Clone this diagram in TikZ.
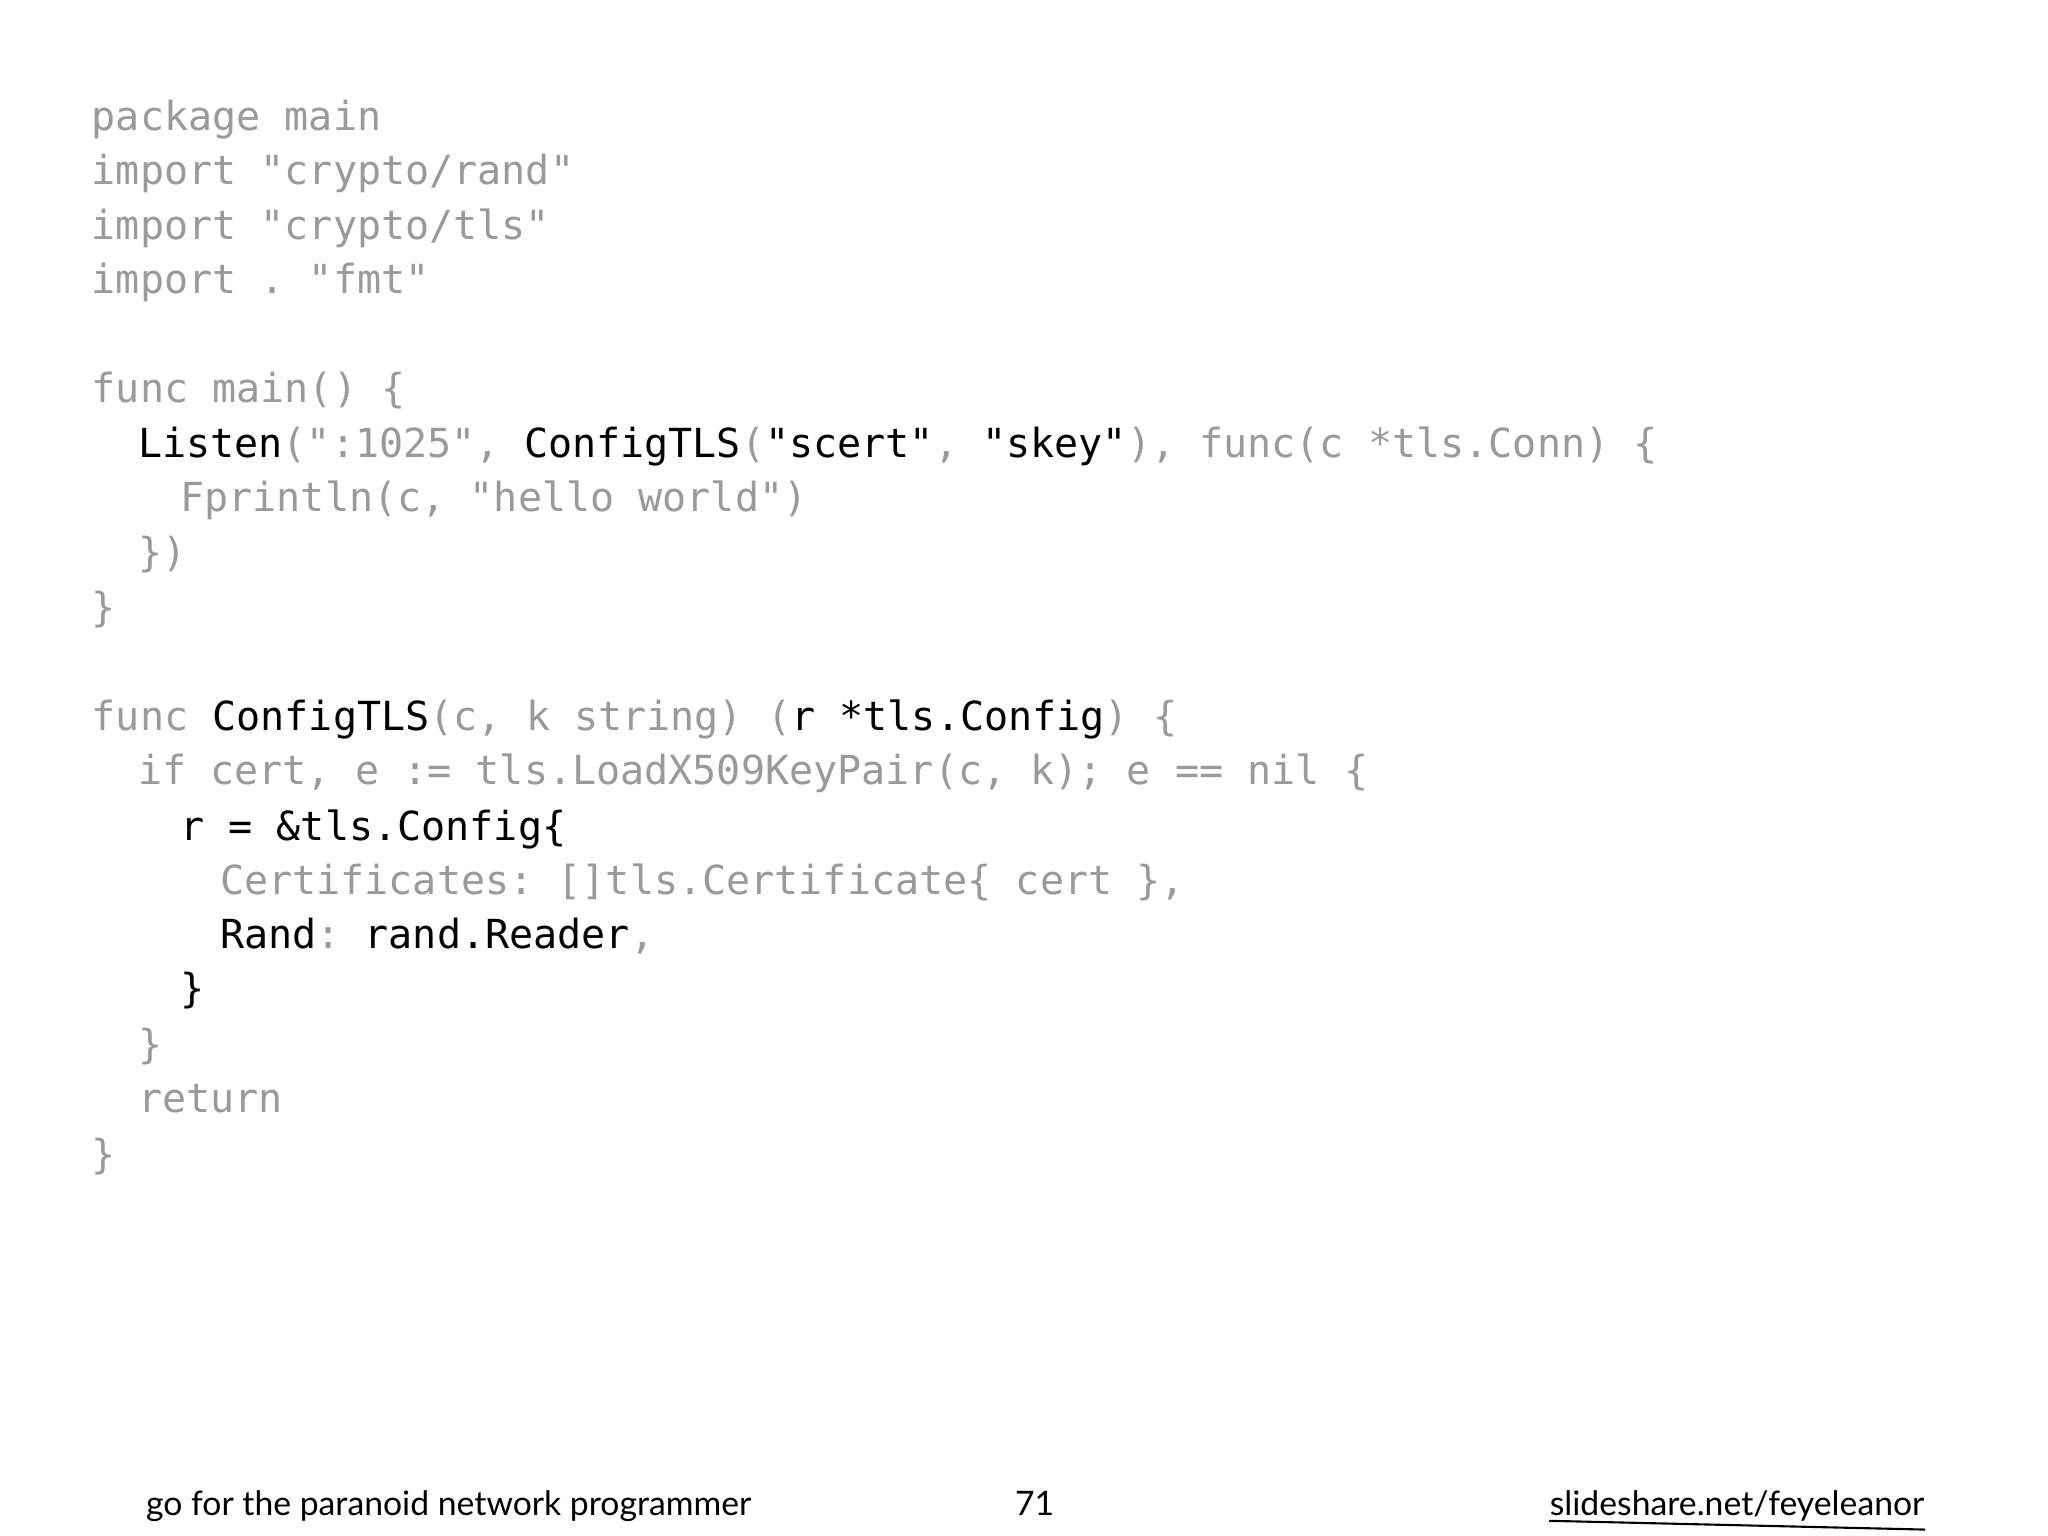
\documentclass[tikz,border=0pt]{standalone}
\usepackage{fontspec}
\setmainfont{Lato}
\setmonofont{DejaVu Sans Mono}
\definecolor{codegray}{HTML}{9A9A9A}
\newcommand\G[1]{\textcolor{codegray}{#1}}
\begin{document}
\begin{tikzpicture}[x=0.013213cm,y=-0.013213cm,
  code/.style={anchor=base west,inner sep=0pt,font=\ttfamily\fontsize{11.4}{13}\selectfont,text=black},
  foot/.style={anchor=base,inner sep=0pt,font=\fontsize{9.6}{11}\selectfont}]
\fill[white] (0,0) rectangle (1550,1162.5);
\node[code] (l1) at (69,99) {\G{package main}};
\node[code] (l2) at (69,140) {\G{import "crypto/rand"}};
\node[code] (l3) at (69,181) {\G{import "crypto/tls"}};
\node[code] (l4) at (69,222) {\G{import . "fmt"}};
\node[code] (l5) at (69,305) {\G{func main() \{}};
\node[code] (l6) at (104,346) {Listen\G{(":1025", }ConfigTLS\G{(}"scert"\G{, }"skey"\G{), func(c *tls.Conn) \{}};
\node[code] (l7) at (136,387) {\G{Fprintln(c, "hello world")}};
\node[code] (l8) at (104,429) {\G{\})}};
\node[code] (l9) at (69,470) {\G{\}}};
\node[code] (l10) at (69,553) {\G{func }ConfigTLS\G{(c, k string) (}r *tls.Config\G{) \{}};
\node[code] (l11) at (104,594) {\G{if cert, e := tls.LoadX509KeyPair(c, k); e == nil \{}};
\node[code] (l12) at (136,636) {r = \&tls.Config\{};
\node[code] (l13) at (166,677) {\G{Certificates: []tls.Certificate\{ cert \},}};
\node[code] (l14) at (166,718) {Rand\G{: }rand.Reader\G{,}};
\node[code] (l15) at (136,759) {\}};
\node[code] (l16) at (104,801) {\G{\}}};
\node[code] (l17) at (104,842) {\G{return}};
\node[code] (l18) at (69,884) {\G{\}}};
\node[foot,anchor=base west] (f1) at (110,1147) {go for the paranoid network programmer};
\node[foot] (f2) at (783,1147) {71};
\node[foot,anchor=base east] (f3) at (1457,1147) {slideshare.net/feyeleanor};
\draw[line width=0.6pt] (f3.base west)++(0,4) -- ([yshift=-4]f3.base east);
\end{tikzpicture}
\end{document}
